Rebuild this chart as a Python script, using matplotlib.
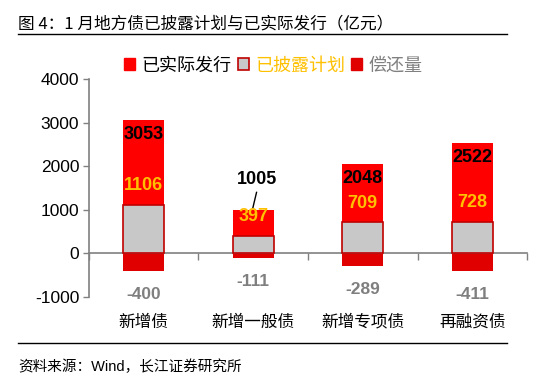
import matplotlib
matplotlib.use("Agg")
import matplotlib.pyplot as plt
from matplotlib.lines import Line2D
from matplotlib.patches import Patch
import numpy as np

plt.rcParams["font.family"] = ["Liberation Sans", "Noto Sans CJK SC", "DejaVu Sans"]
plt.rcParams["axes.unicode_minus"] = False

categories = ["新增债", "新增一般债", "新增专项债", "再融资债"]
actual = [3053, 1005, 2048, 2522]      # 已实际发行
planned = [1106, 397, 709, 728]        # 已披露计划
repay = [-400, -111, -289, -411]       # 偿还量

RED = "#FF0000"
DARK_RED = "#E00000"
GRAY = "#C8C8C8"
EDGE = "#C00000"
ORANGE = "#FFC000"
AX_GRAY = "#808080"

fig = plt.figure(figsize=(5.5, 3.79), dpi=100)
ax = fig.add_axes([0.1618, 0.2164, 0.7964, 0.575])

x = np.arange(len(categories))
w = 0.375
ax.bar(x, actual, w, color=RED, zorder=2)
ax.bar(x, repay, w, color=DARK_RED, zorder=2)
ax.bar(x, planned, w, facecolor=GRAY, edgecolor=EDGE, linewidth=1.2, zorder=3)

ax.set_xlim(-0.5, len(categories) - 0.5)
ax.set_ylim(-1000, 4000)
ax.set_yticks(range(-1000, 4001, 1000))
ax.tick_params(axis="y", labelsize=12.5, length=4, color=AX_GRAY, width=1, pad=3)

# x ticks on category boundaries, labels in centres
ax.set_xticks(np.arange(len(categories) + 1) - 0.5)
ax.set_xticklabels([])
ax.tick_params(axis="x", length=5, color=AX_GRAY, width=1, direction="out")
for i, c in enumerate(categories):
    ax.annotate(c, (i, -1000), xytext=(0, -18), textcoords="offset points",
                ha="center", va="center", fontsize=12)

for s in ["top", "right"]:
    ax.spines[s].set_visible(False)
ax.spines["left"].set_color(AX_GRAY)
ax.spines["bottom"].set_color(AX_GRAY)
ax.spines["bottom"].set_position(("data", 0))
ax.spines["left"].set_linewidth(1.2)
ax.spines["bottom"].set_linewidth(1.2)

bold = dict(fontsize=13, fontweight="bold", ha="center", va="center", zorder=5)
for i in range(len(categories)):
    if i == 1:
        ax.annotate(str(actual[i]), (i + 0.03, actual[i]), xytext=(0, 22),
                    textcoords="offset points", color="black", **bold)
        ax.add_line(Line2D([i + 0.03, i - 0.005], [1400, 1030], color="black", lw=1, zorder=5))
    else:
        ax.annotate(str(actual[i]), (i, actual[i]), xytext=(0, -10),
                    textcoords="offset points", color="black", **bold)
    ax.annotate(str(planned[i]), (i, planned[i]), xytext=(0, 14),
                textcoords="offset points", color=ORANGE, **bold)
    ax.annotate(str(repay[i]), (i, repay[i]), xytext=(0, -17),
                textcoords="offset points", color="#7F7F7F",
                **dict(bold, fontsize=12.5))

handles = [Patch(facecolor=RED, edgecolor=RED),
           Patch(facecolor=GRAY, edgecolor=EDGE, linewidth=1.2),
           Patch(facecolor=DARK_RED, edgecolor=DARK_RED)]
leg = fig.legend(handles, ["已实际发行", "已披露计划", "偿还量"], loc="center",
                 bbox_to_anchor=(0.497, 0.826), ncol=3, frameon=False, fontsize=13,
                 handlelength=0.6, handleheight=0.6, handletextpad=0.35, columnspacing=0.35)
leg.get_texts()[1].set_color(ORANGE)
leg.get_texts()[2].set_color(AX_GRAY)

fig.text(0.033, 0.938, "图 4：1 月地方债已披露计划与已实际发行（亿元）", fontsize=12,
         ha="left", va="center", family=["Noto Sans CJK SC", "DejaVu Sans"])
fig.add_artist(Line2D([0.033, 0.922], [0.91, 0.91], color="black", lw=1))
fig.add_artist(Line2D([0.033, 0.922], [0.095, 0.095], color="black", lw=1))
fig.text(0.033, 0.032, "资料来源：Wind，长江证券研究所", fontsize=10.5, ha="left", va="center")

fig.savefig("out.png", dpi=100)
